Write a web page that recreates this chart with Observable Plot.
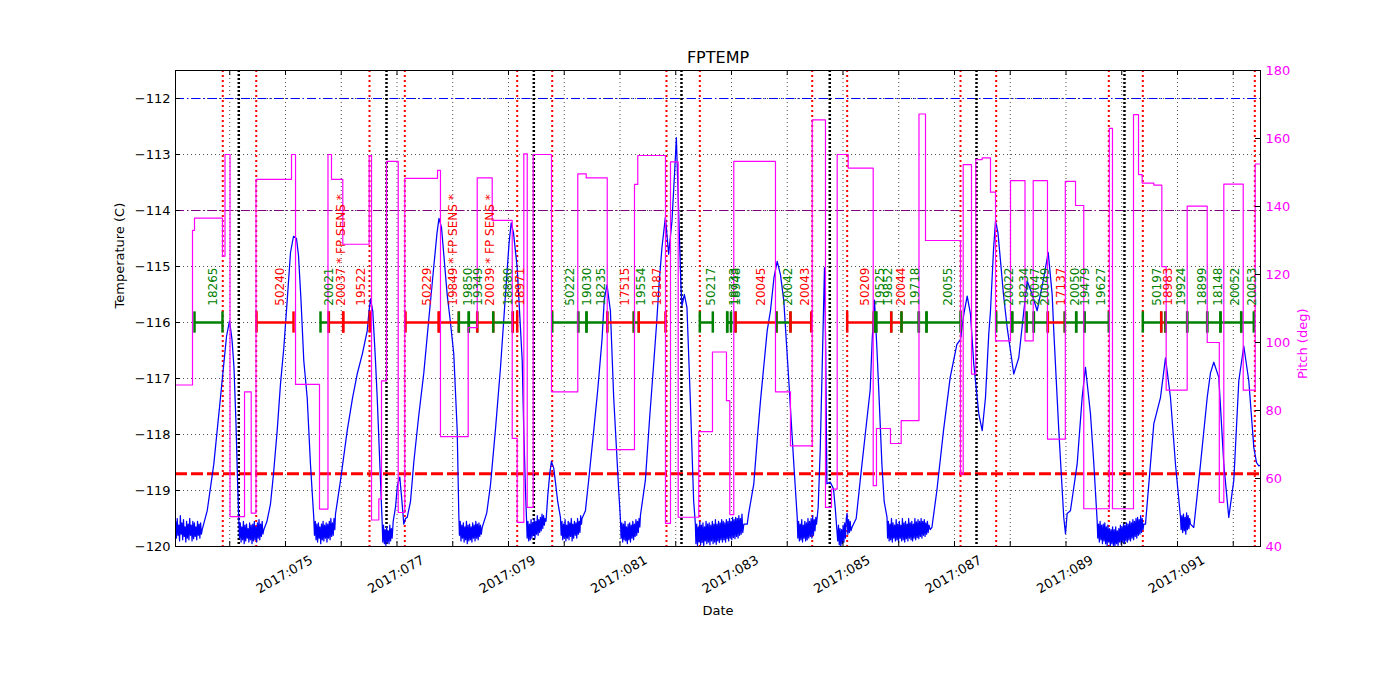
<!DOCTYPE html>
<html>
<head>
<meta charset="utf-8">
<script src="https://cdn.jsdelivr.net/npm/d3@7"></script>
<script src="https://cdn.jsdelivr.net/npm/@observablehq/plot@0.6"></script>
<style>
html,body{margin:0;padding:0;background:#fff;}
#chart svg{display:block;}
</style>
</head>
<body>
<div id="chart"></div>
<script>
// ---------------- data (day of year 2017) ----------------
// FPTEMP samples [day, degC]
const fptempSamples = [
[73.030,-119.55],[73.044,-119.85],[73.058,-119.50],[73.072,-119.80],[73.086,-119.62],[73.100,-119.90],[73.114,-119.45],[73.128,-119.78],[73.142,-119.58],[73.156,-119.88],
[73.170,-119.52],[73.184,-119.82],[73.198,-119.65],[73.212,-119.92],[73.226,-119.55],[73.240,-119.85],[73.254,-119.60],[73.268,-119.88],[73.282,-119.50],[73.296,-119.80],
[73.310,-119.62],[73.324,-119.90],[73.338,-119.55],[73.352,-119.86],[73.366,-119.58],[73.380,-119.82],[73.394,-119.65],[73.408,-119.88],[73.422,-119.55],[73.436,-119.80],
[73.450,-119.60],[73.464,-119.85],[73.478,-119.58],[73.492,-119.78],[73.506,-119.70],
[73.596,-119.36],[73.714,-118.53],[73.834,-117.34],[73.893,-116.74],[73.942,-116.25],[73.996,-115.97],[74.040,-116.30],[74.076,-116.80],[74.112,-117.80],[74.139,-118.80],[74.162,-119.50],
[74.175,-119.85],[74.189,-119.58],[74.203,-119.92],[74.217,-119.65],[74.231,-119.88],[74.245,-119.55],[74.259,-119.95],[74.273,-119.62],[74.287,-119.90],[74.301,-119.60],
[74.315,-119.85],[74.329,-119.68],[74.343,-119.92],[74.357,-119.58],[74.371,-119.88],[74.385,-119.62],[74.399,-119.95],[74.413,-119.60],[74.427,-119.90],[74.441,-119.55],
[74.455,-119.88],[74.469,-119.65],[74.483,-119.92],[74.497,-119.58],[74.511,-119.85],[74.525,-119.52],[74.539,-119.88],[74.553,-119.60],[74.567,-119.82],[74.581,-119.55],
[74.595,-119.78],[74.611,-119.70],
[74.668,-119.55],[74.731,-119.24],[74.785,-118.70],[74.851,-117.93],[74.910,-117.10],[74.970,-116.45],[75.031,-115.60],[75.090,-114.75],[75.144,-114.46],[75.197,-114.50],[75.233,-114.80],[75.278,-115.60],[75.328,-116.68],[75.389,-117.34],[75.448,-118.53],[75.507,-119.48],
[75.520,-119.80],[75.534,-119.55],[75.548,-119.88],[75.562,-119.60],[75.576,-119.92],[75.590,-119.58],[75.604,-119.85],[75.618,-119.65],[75.632,-119.95],[75.646,-119.60],
[75.660,-119.88],[75.674,-119.55],[75.688,-119.90],[75.702,-119.62],[75.716,-119.85],[75.730,-119.58],[75.744,-119.92],[75.758,-119.60],[75.772,-119.85],[75.786,-119.55],
[75.800,-119.88],[75.814,-119.50],[75.828,-119.82],[75.842,-119.58],[75.856,-119.80],[75.870,-119.50],[75.884,-119.70],[75.897,-119.42],
[75.987,-118.82],[76.107,-117.93],[76.202,-117.35],[76.286,-116.92],[76.381,-116.55],[76.466,-116.15],[76.498,-115.80],[76.525,-115.58],[76.566,-115.80],[76.614,-116.68],[76.645,-117.34],[76.704,-118.82],[76.735,-119.60],
[76.745,-119.92],[76.759,-119.62],[76.773,-119.95],[76.787,-119.70],[76.801,-119.98],[76.815,-119.65],[76.829,-119.92],[76.843,-119.72],[76.857,-119.95],[76.871,-119.62],
[76.885,-119.90],[76.899,-119.68],[76.913,-119.85],[76.932,-119.55],
[76.973,-119.30],[77.009,-118.90],[77.050,-118.76],[77.081,-119.10],[77.122,-119.60],[77.152,-119.50],[77.183,-119.48],
[77.242,-119.20],[77.301,-118.50],[77.386,-117.70],[77.481,-116.90],[77.565,-116.00],[77.660,-115.00],[77.718,-114.40],[77.753,-114.14],[77.798,-114.30],[77.900,-115.50],[77.959,-116.00],[78.019,-116.57],[78.080,-117.93],[78.108,-119.40],
[78.120,-119.80],[78.134,-119.55],[78.148,-119.90],[78.162,-119.62],[78.176,-119.85],[78.190,-119.58],[78.204,-119.92],[78.218,-119.65],[78.232,-119.88],[78.246,-119.55],
[78.260,-119.95],[78.274,-119.62],[78.288,-119.90],[78.302,-119.60],[78.316,-119.88],[78.330,-119.65],[78.344,-119.92],[78.358,-119.58],[78.372,-119.85],[78.386,-119.62],
[78.400,-119.90],[78.414,-119.55],[78.428,-119.85],[78.442,-119.60],[78.456,-119.88],[78.470,-119.58],[78.484,-119.82],[78.498,-119.62],[78.512,-119.78],[78.528,-119.66],
[78.610,-119.40],[78.677,-118.90],[78.767,-117.90],[78.857,-116.80],[78.946,-115.50],[79.009,-114.60],[79.048,-114.22],[79.090,-114.40],[79.156,-115.02],[79.246,-116.68],[79.274,-117.93],[79.305,-119.00],[79.323,-119.50],
[79.335,-119.85],[79.349,-119.55],[79.363,-119.90],[79.377,-119.60],[79.391,-119.88],[79.405,-119.52],[79.419,-119.85],[79.433,-119.58],[79.447,-119.80],[79.461,-119.50],
[79.475,-119.85],[79.489,-119.55],[79.503,-119.78],[79.517,-119.45],[79.531,-119.80],[79.545,-119.52],[79.559,-119.75],[79.573,-119.48],[79.587,-119.72],[79.601,-119.42],
[79.615,-119.68],[79.629,-119.45],[79.643,-119.62],[79.657,-119.50],[79.673,-119.55],
[79.704,-119.10],[79.740,-118.70],[79.770,-118.48],[79.812,-118.60],[79.842,-118.85],[79.883,-119.20],[79.932,-119.48],
[79.945,-119.80],[79.959,-119.55],[79.973,-119.88],[79.987,-119.60],[80.001,-119.85],[80.015,-119.52],[80.029,-119.90],[80.043,-119.62],[80.057,-119.85],[80.071,-119.55],
[80.085,-119.88],[80.099,-119.58],[80.113,-119.82],[80.127,-119.50],[80.141,-119.90],[80.155,-119.60],[80.169,-119.85],[80.183,-119.55],[80.197,-119.80],[80.211,-119.58],
[80.225,-119.85],[80.239,-119.50],[80.253,-119.78],[80.267,-119.55],[80.281,-119.75],[80.295,-119.45],[80.309,-119.60],[80.319,-119.50],
[80.380,-119.36],[80.440,-118.80],[80.529,-117.93],[80.601,-117.20],[80.678,-116.30],[80.717,-115.60],[80.767,-115.33],[80.828,-115.79],[80.887,-117.34],[80.977,-119.00],[81.007,-119.50],
[81.020,-119.85],[81.034,-119.58],[81.048,-119.92],[81.062,-119.60],[81.076,-119.88],[81.090,-119.55],[81.104,-119.90],[81.118,-119.65],[81.132,-119.95],[81.146,-119.60],
[81.160,-119.88],[81.174,-119.58],[81.188,-119.92],[81.202,-119.62],[81.216,-119.85],[81.230,-119.55],[81.244,-119.88],[81.258,-119.60],[81.272,-119.82],[81.286,-119.52],
[81.300,-119.80],[81.314,-119.55],[81.328,-119.75],[81.342,-119.50],[81.356,-119.65],[81.366,-119.45],
[81.455,-118.82],[81.532,-117.70],[81.604,-116.74],[81.658,-116.00],[81.702,-115.30],[81.753,-114.66],[81.814,-114.12],[81.873,-114.78],[81.932,-114.19],[81.981,-113.30],[82.011,-112.70],[82.052,-114.00],[82.094,-115.38],[82.112,-115.70],[82.155,-115.50],[82.201,-115.73],[82.262,-117.40],[82.321,-119.18],[82.352,-119.60],
[82.362,-119.95],[82.376,-119.60],[82.390,-119.98],[82.404,-119.65],[82.418,-119.92],[82.432,-119.55],[82.446,-119.97],[82.460,-119.62],[82.474,-119.93],[82.488,-119.58],
[82.502,-119.98],[82.516,-119.65],[82.530,-119.90],[82.544,-119.55],[82.558,-119.95],[82.572,-119.60],[82.586,-119.92],[82.600,-119.58],[82.614,-119.97],[82.628,-119.62],
[82.642,-119.90],[82.656,-119.55],[82.670,-119.95],[82.684,-119.60],[82.698,-119.92],[82.712,-119.52],[82.726,-119.96],[82.740,-119.60],[82.754,-119.90],[82.768,-119.55],
[82.782,-119.93],[82.796,-119.58],[82.810,-119.88],[82.824,-119.52],[82.838,-119.92],[82.852,-119.55],[82.866,-119.88],[82.880,-119.58],[82.894,-119.92],[82.908,-119.52],
[82.922,-119.86],[82.936,-119.55],[82.950,-119.90],[82.964,-119.50],[82.978,-119.85],[82.992,-119.55],[83.006,-119.88],[83.020,-119.48],[83.034,-119.84],[83.048,-119.52],
[83.062,-119.86],[83.076,-119.48],[83.090,-119.82],[83.104,-119.50],[83.118,-119.85],[83.132,-119.45],[83.146,-119.80],[83.160,-119.50],[83.174,-119.78],[83.188,-119.42],
[83.202,-119.75],[83.222,-119.60],
[83.282,-119.60],[83.310,-119.40],[83.400,-118.88],[83.461,-118.10],[83.520,-117.40],[83.640,-116.15],[83.699,-115.79],[83.762,-115.20],[83.820,-114.91],[83.879,-115.15],[83.938,-115.61],[84.028,-117.04],[84.118,-118.53],[84.179,-119.48],
[84.190,-119.85],[84.204,-119.55],[84.218,-119.90],[84.232,-119.60],[84.246,-119.88],[84.260,-119.52],[84.274,-119.92],[84.288,-119.62],[84.302,-119.85],[84.316,-119.55],
[84.330,-119.90],[84.344,-119.58],[84.358,-119.88],[84.372,-119.50],[84.386,-119.85],[84.400,-119.55],[84.414,-119.82],[84.428,-119.50],[84.442,-119.85],[84.456,-119.45],
[84.470,-119.80],[84.484,-119.52],[84.498,-119.72],[84.512,-119.48],[84.525,-119.60],
[84.555,-119.30],[84.591,-118.30],[84.627,-116.80],[84.668,-115.02],[84.690,-116.50],[84.711,-118.88],[84.770,-118.85],[84.830,-118.97],[84.860,-119.30],[84.891,-119.71],
[84.905,-119.90],[84.919,-119.62],[84.933,-119.97],[84.947,-119.68],[84.961,-120.00],[84.975,-119.70],[84.989,-119.95],[85.003,-119.62],[85.017,-119.92],[85.031,-119.58],
[85.045,-119.85],[85.059,-119.50],[85.073,-119.41],[85.087,-119.78],[85.101,-119.52],[85.115,-119.75],[85.129,-119.55],[85.143,-119.72],[85.160,-119.66],
[85.237,-119.50],[85.309,-118.82],[85.399,-118.00],[85.488,-117.20],[85.524,-116.30],[85.565,-115.60],[85.608,-116.45],[85.650,-117.40],[85.698,-118.53],[85.739,-119.20],[85.790,-119.48],
[85.800,-119.85],[85.814,-119.55],[85.828,-119.90],[85.842,-119.60],[85.856,-119.88],[85.870,-119.50],[85.884,-119.92],[85.898,-119.58],[85.912,-119.85],[85.926,-119.62],
[85.940,-119.90],[85.954,-119.52],[85.968,-119.88],[85.982,-119.60],[85.996,-119.92],[86.010,-119.55],[86.024,-119.85],[86.038,-119.62],[86.052,-119.90],[86.066,-119.50],
[86.080,-119.88],[86.094,-119.58],[86.108,-119.92],[86.122,-119.55],[86.136,-119.86],[86.150,-119.60],[86.164,-119.90],[86.178,-119.50],[86.192,-119.85],[86.206,-119.58],
[86.220,-119.88],[86.234,-119.55],[86.248,-119.90],[86.262,-119.60],[86.276,-119.85],[86.290,-119.50],[86.304,-119.88],[86.318,-119.56],[86.332,-119.84],[86.346,-119.52],
[86.360,-119.86],[86.374,-119.55],[86.388,-119.82],[86.402,-119.50],[86.416,-119.85],[86.430,-119.55],[86.444,-119.80],[86.458,-119.52],[86.472,-119.82],[86.486,-119.58],
[86.500,-119.78],[86.514,-119.55],[86.528,-119.75],[86.542,-119.62],[86.565,-119.70],
[86.595,-119.66],[86.684,-119.00],[86.803,-117.93],[86.923,-116.98],[87.043,-116.39],[87.108,-116.30],[87.167,-115.85],[87.228,-115.53],[87.287,-115.85],[87.346,-116.74],[87.436,-117.63],[87.497,-117.93],[87.556,-117.34],[87.615,-116.20],[87.646,-115.79],[87.700,-114.70],[87.736,-114.19],[87.780,-114.40],[87.825,-114.90],[87.879,-115.50],[87.945,-116.09],[88.004,-116.50],[88.063,-116.92],[88.153,-116.63],[88.243,-115.80],[88.304,-115.26],[88.394,-115.50],[88.483,-115.79],[88.602,-115.20],[88.681,-114.75],[88.752,-115.50],[88.781,-116.15],[88.871,-117.93],[88.960,-119.48],[88.991,-119.77],[89.021,-119.41],[89.080,-119.36],[89.200,-118.53],[89.290,-117.34],[89.349,-116.80],[89.439,-117.63],[89.498,-118.50],[89.559,-119.54],
[89.570,-119.85],[89.584,-119.60],[89.598,-119.92],[89.612,-119.55],[89.626,-119.88],[89.640,-119.62],[89.654,-119.95],[89.668,-119.60],[89.682,-119.90],[89.696,-119.58],
[89.710,-119.95],[89.724,-119.65],[89.738,-119.98],[89.752,-119.62],[89.766,-119.92],[89.780,-119.68],[89.794,-120.00],[89.808,-119.70],[89.822,-119.95],[89.836,-119.65],
[89.850,-119.98],[89.864,-119.70],[89.878,-120.00],[89.892,-119.65],[89.906,-119.95],[89.920,-119.72],[89.934,-119.98],[89.948,-119.68],[89.962,-119.92],[89.976,-119.62],
[89.990,-119.96],[90.004,-119.65],[90.018,-119.92],[90.032,-119.60],[90.046,-119.95],[90.060,-119.62],[90.074,-119.90],[90.088,-119.58],[90.102,-119.92],[90.116,-119.60],
[90.130,-119.88],[90.144,-119.55],[90.158,-119.90],[90.172,-119.58],[90.186,-119.85],[90.200,-119.52],[90.214,-119.88],[90.228,-119.55],[90.242,-119.82],[90.256,-119.50],
[90.270,-119.85],[90.284,-119.48],[90.298,-119.80],[90.312,-119.52],[90.326,-119.78],[90.340,-119.45],[90.354,-119.75],[90.368,-119.50],[90.382,-119.70],[90.395,-119.60],
[90.426,-119.60],[90.575,-117.81],[90.695,-117.34],[90.785,-116.63],[90.874,-117.34],[90.964,-118.53],[91.054,-119.48],
[91.065,-119.70],[91.079,-119.45],[91.093,-119.75],[91.107,-119.42],[91.121,-119.72],[91.135,-119.48],[91.149,-119.78],[91.163,-119.40],[91.177,-119.70],[91.191,-119.45],
[91.205,-119.68],[91.219,-119.50],[91.233,-119.60],
[91.292,-119.66],[91.413,-118.53],[91.533,-117.34],[91.592,-116.90],[91.651,-116.71],[91.741,-116.98],[91.831,-118.53],[91.920,-119.48],[92.010,-118.82],[92.100,-117.04],[92.189,-116.42],[92.279,-117.04],[92.369,-118.23],[92.417,-118.50],[92.458,-118.56],[92.489,-118.55]
];

// Pitch steps [day, deg] (value holds until next step)
const pitchSteps = [
[73.027,87.5],[73.332,133],[73.368,136.6],[73.870,125.4],[73.915,155.3],[74.005,48.8],[74.265,85.5],[74.385,49.8],[74.471,148],[75.108,155.3],
[75.180,87.7],[75.610,51],[75.762,155.3],[75.825,148],[76.028,128.9],[76.501,155],[76.543,47.8],[76.674,54],[76.722,88.7],[76.812,153.3],
[77.022,50],[77.140,148.3],[77.727,150.6],[77.780,72.3],[78.277,104.4],[78.439,148.4],[78.708,135.9],[79.067,71.8],[79.156,47.1],[79.275,155.5],
[79.336,51.5],[79.443,155.3],[79.771,85.5],[80.243,149.6],[80.394,148.4],[80.771,68.5],[81.260,146.5],[81.319,155],[81.816,46.8],[81.906,153.1],
[82.044,48.6],[82.413,73.8],[82.659,97.2],[82.910,82.9],[82.970,49.4],[83.041,153.3],[83.789,85.5],[84.058,69.6],[84.448,165.5],[84.686,51.5],
[84.794,56.9],[84.896,155.3],[85.093,151.3],[85.542,57.9],[85.601,74.7],[85.852,70.3],[86.044,77],[86.363,167.2],[86.480,130],[87.108,61.3],
[87.156,152.3],[87.305,90.7],[87.382,153.8],[87.497,154.3],[87.646,144.2],[87.736,100.5],[88.005,147.6],[88.265,100.5],[88.412,147.6],[88.668,71.6],
[88.988,147.4],[89.171,140.3],[89.319,51.1],[89.777,163],[89.834,51.1],[90.211,167],[90.301,149.4],[90.367,146.9],[90.575,146.3],[90.719,122.3],
[90.797,86],[91.174,140.1],[91.533,100],[91.750,53],[91.831,146.6],[92.179,86],[92.394,152.5],[92.489,152.5]
];

// Observations (obsids) along the timeline
const obsStart = [73.368,74.480,75.628,75.777,76.035,77.153,77.750,78.109,78.288,78.439,78.726,79.077,79.784,80.250,80.399,80.771,81.248,81.337,82.432,82.923,82.923,83.072,83.807,84.058,85.075,85.553,85.596,85.865,86.049,86.360,86.498,87.748,88.035,88.292,88.423,88.674,88.979,89.183,89.332,90.378,90.708,90.785,91.174,91.533,91.771,92.143];
const obsStop  = [73.870,75.144,75.777,76.035,76.512,77.750,78.109,78.288,78.439,78.726,79.077,79.156,80.250,80.399,80.771,81.248,81.337,81.816,82.665,82.991,83.072,83.807,84.058,84.430,85.553,85.596,85.865,86.049,86.360,86.498,87.108,88.035,88.292,88.423,88.674,88.979,89.183,89.332,89.768,90.708,90.785,91.174,91.533,91.771,92.143,92.369];
const obsLabel = ["18265","50240","20021","20037 * FP SENS *","19522","50229","19849 * FP SENS *","19850","19349","20039 * FP SENS *","18880","18971","50222","19030","18235","17515","19554","18187","50217","18733","18948","20045","20042","20043","50209","19525","19852","20044","19718","","20055","20022","18234","20047","20049","17137","20050","19479","19627","50197","18983","19924","18899","18148","20052","20053"];
const obsKind  = ["g","r","g","r","r","r","r","g","g","r","g","r","g","g","g","r","g","r","g","g","g","r","g","r","r","g","g","r","g","g","g","g","g","g","g","r","g","g","g","g","r","g","g","g","g","g"];

// Radiation zone boundaries and perigee times
const radZoneDay = [73.875,74.475,76.507,77.140,79.156,79.784,81.834,82.432,84.448,85.075,87.108,87.748,89.768,90.378,92.387];
const perigeeDay = [74.162,76.812,79.454,82.103,84.763,87.395,90.049];

// Limits (degC)
const limitBlue = -112.0;
const limitPurple = -114.0;
const limitRed = -118.7;
const obsBarLevel = -116.0;
const obsLabelBase = -115.7;

// Ticks
const dayTicks = [74,75,76,77,78,79,80,81,82,83,84,85,86,87,88,89,90,91,92];
const labeledDays = [75,77,79,81,83,85,87,89,91];
const tempTicks = [-120,-119,-118,-117,-116,-115,-114,-113,-112];
const pitchTicks = [40,60,80,100,120,140,160,180];

// ---------------- chart ----------------
const W = 1400, H = 700, mL = 175, mR = 140, mT = 70, mB = 154;
const xDom = [73.027, 92.489];
const tDom = [-120, -111.5];
const pDom = [40, 180];
const p2t = p => tDom[0] + (p - pDom[0]) * (tDom[1] - tDom[0]) / (pDom[1] - pDom[0]);
const tickDx = (xDom[1] - xDom[0]) * 5 / (W - mL - mR);
const tickDy = (tDom[1] - tDom[0]) * 5 / (H - mT - mB);

const temp = fptempSamples.map(([d, t]) => ({d, t}));
const pitch = pitchSteps.map(([d, p]) => ({d, t: p2t(p)}));
const obs = obsLabel.map((label, i) => ({
  start: obsStart[i], stop: obsStop[i], label,
  color: obsKind[i] === "r" ? "red" : "green",
  mid: (obsStart[i] + obsStop[i]) / 2
}));
const obsEdges = obs.flatMap(o => [{d: o.start, color: o.color}, {d: o.stop, color: o.color}]);

const fmtT = v => "\u2212" + Math.abs(v);
const fmtDay = d => "2017:" + String(d).padStart(3, "0");
const dash = "9,3,1.5,3";

const chart = Plot.plot({
  width: W, height: H,
  marginLeft: mL, marginRight: mR, marginTop: mT, marginBottom: mB,
  x: {domain: xDom, axis: null},
  y: {domain: tDom, axis: null},
  color: {type: "identity"},
  style: {fontFamily: "'DejaVu Sans', sans-serif", fontSize: "13px", background: "white", color: "black"},
  marks: [
    // grid
    Plot.ruleX(dayTicks, {x: d => d, stroke: "black", strokeWidth: 0.7, strokeDasharray: "1,3"}),
    Plot.ruleY(tempTicks, {y: d => d, stroke: "black", strokeWidth: 0.7, strokeDasharray: "1,3"}),
    // limit lines
    Plot.ruleY([limitBlue], {y: d => d, stroke: "blue", strokeWidth: 1, strokeDasharray: dash}),
    Plot.ruleY([limitPurple], {y: d => d, stroke: "purple", strokeWidth: 1, strokeDasharray: dash}),
    Plot.ruleY([limitRed], {y: d => d, stroke: "red", strokeWidth: 3, strokeDasharray: "12,4"}),
    // event lines
    Plot.ruleX(radZoneDay, {x: d => d, stroke: "red", strokeWidth: 2, strokeDasharray: "2,3"}),
    Plot.ruleX(perigeeDay, {x: d => d, stroke: "black", strokeWidth: 2.5, strokeDasharray: "2,2"}),
    // temperature
    Plot.line(temp, {x: "d", y: "t", stroke: "blue", strokeWidth: 1.25, clip: true}),
    // observation bars
    Plot.ruleY(obs, {y: obsBarLevel, x1: "start", x2: "stop", stroke: d => d.color, strokeWidth: 2.5}),
    Plot.ruleX(obsEdges, {x: "d", y1: obsBarLevel - 0.19, y2: obsBarLevel + 0.19, stroke: d => d.color, strokeWidth: 2.5}),
    // pitch
    Plot.line(pitch, {x: "d", y: "t", curve: "step-after", stroke: "magenta", strokeWidth: 1.2, clip: true}),
    // obsid labels
    Plot.text(obs.filter(o => o.label), {x: "mid", y: obsLabelBase, text: "label", fill: d => d.color,
      rotate: -90, textAnchor: "start", lineAnchor: "top", fontSize: 12}),
    // frame
    Plot.frame({stroke: "black", strokeWidth: 1}),
    // inward ticks
    Plot.ruleY(tempTicks, {y: d => d, x1: xDom[0], x2: xDom[0] + tickDx, stroke: "black"}),
    Plot.ruleY(pitchTicks, {y: p => p2t(p), x1: xDom[1] - tickDx, x2: xDom[1], stroke: "black"}),
    Plot.ruleX(dayTicks, {x: d => d, y1: tDom[0], y2: tDom[0] + tickDy, stroke: "black"}),
    Plot.ruleX(dayTicks, {x: d => d, y1: tDom[1] - tickDy, y2: tDom[1], stroke: "black"}),
    // tick labels
    Plot.text(tempTicks, {x: xDom[0], y: d => d, text: fmtT, textAnchor: "end", dx: -5, fontSize: 13}),
    Plot.text(pitchTicks, {x: xDom[1], y: p => p2t(p), text: d => String(d), textAnchor: "start", dx: 5, fill: "magenta", fontSize: 13}),
    Plot.text(labeledDays, {x: d => d, y: tDom[0], text: fmtDay, rotate: -30, dy: 28, dx: -1, textAnchor: "middle", lineAnchor: "middle", fontSize: 13}),
    // titles
    Plot.text(["FPTEMP"], {frameAnchor: "top", text: d => d, dy: -13, lineAnchor: "middle", fontSize: 16}),
    Plot.text(["Date"], {frameAnchor: "bottom", text: d => d, dy: 64, lineAnchor: "middle", fontSize: 13}),
    Plot.text(["Temperature (C)"], {frameAnchor: "left", text: d => d, dx: -56, rotate: -90, lineAnchor: "middle", fontSize: 13}),
    Plot.text(["Pitch (deg)"], {frameAnchor: "right", text: d => d, dx: 42, rotate: -90, lineAnchor: "middle", fill: "magenta", fontSize: 13})
  ]
});
document.getElementById("chart").appendChild(chart);
</script>
</body>
</html>
